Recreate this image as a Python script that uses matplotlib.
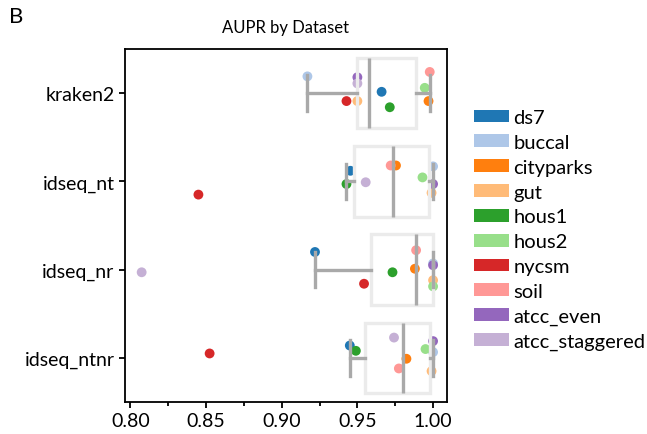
import numpy as np
import matplotlib
matplotlib.use("Agg")
from matplotlib import pyplot as plt
from matplotlib.patches import Patch

plt.rcParams['font.family'] = ['Lato', 'DejaVu Sans']

# methods on the y axis, datasets as coloured points
methods = ['kraken2', 'idseq_nt', 'idseq_nr', 'idseq_ntnr']
datasets = ['ds7', 'buccal', 'cityparks', 'gut', 'hous1', 'hous2',
            'nycsm', 'soil', 'atcc_even', 'atcc_staggered']
colors = ['#1f77b4', '#aec7e8', '#ff7f0e', '#ffbb78', '#2ca02c',
          '#98df8a', '#d62728', '#ff9896', '#9467bd', '#c5b0d5']

# AUPR per method, in the order of datasets
aupr_kraken2 = [0.966, 0.917, 0.997, 0.950, 0.9714, 0.9945, 0.9428, 0.9978, 0.950, 0.950]
aupr_idseq_nt = [0.9454, 1.000, 0.9755, 0.999, 0.9428, 0.993, 0.845, 0.972, 1.000, 0.9555]
aupr_idseq_nr = [0.922, 1.000, 0.988, 1.000, 0.9732, 1.000, 0.9544, 0.9888, 1.000, 0.8075]
aupr_idseq_ntnr = [0.945, 1.000, 0.9824, 0.999, 0.949, 0.995, 0.8524, 0.9774, 1.000, 0.9742]
aupr = [aupr_kraken2, aupr_idseq_nt, aupr_idseq_nr, aupr_idseq_ntnr]

# strip jitter (category units)
jitter_kraken2 = [-0.015, -0.19, 0.09, 0.09, 0.16, -0.06, 0.09, -0.24, -0.18, -0.11]
jitter_idseq_nt = [-0.12, -0.17, -0.18, 0.13, 0.03, -0.045, 0.15, -0.18, 0.03, 0.01]
jitter_idseq_nr = [-0.20, -0.07, -0.01, 0.12, 0.03, 0.19, 0.16, -0.22, -0.05, 0.03]
jitter_idseq_ntnr = [-0.14, -0.065, 0.01, 0.15, -0.08, -0.10, -0.05, 0.12, -0.19, -0.23]
jitter = [jitter_kraken2, jitter_idseq_nt, jitter_idseq_nr, jitter_idseq_ntnr]

fig = plt.figure(figsize=(6.47, 4.35), dpi=100)
ax = fig.add_axes([125/647, 1-403/435, 322/647, 353/435])

# points
for i, m in enumerate(methods):
    y = i + np.array(jitter[i])
    ax.scatter(aupr[i], y, c=colors, s=50, zorder=2, linewidths=0)

# boxes on top, no fliers
grey = '#a9a9a9'
ax.boxplot(aupr, positions=range(len(methods)), vert=False, widths=0.8,
           showfliers=False, patch_artist=True, zorder=3,
           boxprops=dict(facecolor='none', edgecolor='#ebebeb', linewidth=2.4),
           medianprops=dict(color=grey, linewidth=2.4),
           whiskerprops=dict(color=grey, linewidth=2.4),
           capprops=dict(color=grey, linewidth=2.4))

ax.set_ylim(3.5, -0.5)
ax.set_xlim(0.7965, 1.0092)
ax.set_yticks(range(len(methods)))
ax.set_yticklabels(methods)
ax.set_xticks([0.80, 0.85, 0.90, 0.95, 1.00])
ax.set_xticklabels(['0.80', '0.85', '0.90', '0.95', '1.00'])
ax.set_xticks([0.825, 0.875, 0.925, 0.975], minor=True)
ax.tick_params(labelsize=14, width=1.3, length=4)
ax.tick_params(which='minor', width=1.3, length=3)
for s in ax.spines.values():
    s.set_linewidth(1.3)

ax.set_title('AUPR by Dataset', fontsize=12, pad=12)
fig.text(9/647, 1-17/435, 'B', fontsize=16, va='center', ha='left')

handles = [Patch(facecolor=c, edgecolor='none') for c in colors]
fig.legend(handles, datasets, loc='upper left', frameon=False,
           bbox_to_anchor=(474/647, 1-110/435), borderpad=0, borderaxespad=0,
           fontsize=14.5, handlelength=1.75, handleheight=0.6,
           handletextpad=0.2, labelspacing=0.39)

fig.savefig('out.png', dpi=100)
